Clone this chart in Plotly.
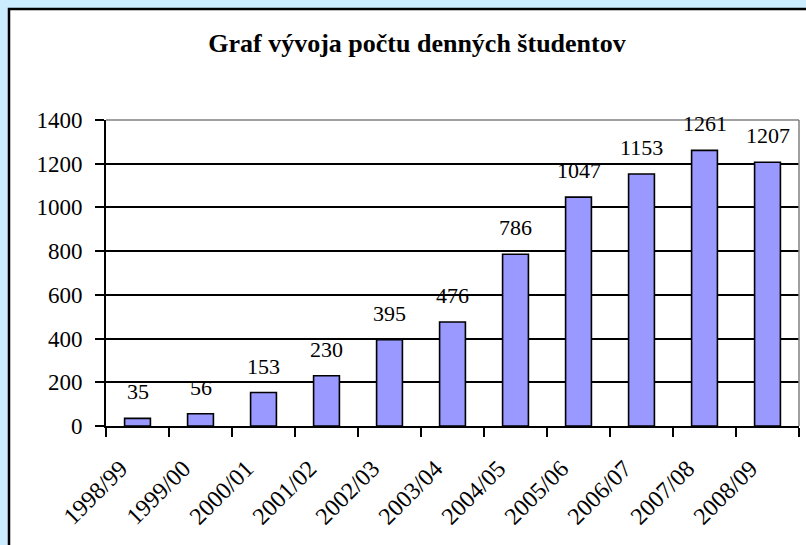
import plotly.graph_objects as go

years = ["1998/99", "1999/00", "2000/01", "2001/02", "2002/03", "2003/04",
         "2004/05", "2005/06", "2006/07", "2007/08", "2008/09"]
students = [35, 56, 153, 230, 395, 476, 786, 1047, 1153, 1261, 1207]
y_ticks = [0, 200, 400, 600, 800, 1000, 1200, 1400]
title_text = "Graf vývoja počtu denných študentov"

FONT = '"Liberation Serif", "Times New Roman", Times, serif'

W, H = 806, 545
L, R, T, B = 106, 7, 120, 119
pw, ph = W - L - R, H - T - B

def px_x(p):
    return (p - L) / pw

def px_y(p):
    return (H - B - p) / ph

fig = go.Figure()
fig.add_trace(go.Bar(
    x=years, y=students,
    marker=dict(color="#9999FF", line=dict(color="black", width=1.6)),
    hoverinfo="x+y",
))

for yr, v in zip(years, students):
    fig.add_annotation(x=yr, y=v, text=str(v), showarrow=False,
                       yanchor="bottom", yshift=12,
                       font=dict(family=FONT, size=22, color="black"))

shapes = [
    # white chart frame
    dict(type="rect", xref="paper", yref="paper",
         x0=px_x(9), x1=px_x(822), y0=px_y(562), y1=px_y(9),
         fillcolor="white", line=dict(color="black", width=2.5), layer="below"),
    # gray top and right plot border
    dict(type="line", xref="paper", yref="paper", x0=0, x1=1, y0=1, y1=1,
         line=dict(color="#808080", width=1.5)),
    dict(type="line", xref="paper", yref="paper", x0=1, x1=1, y0=0, y1=1,
         line=dict(color="#808080", width=1.5)),
]

fig.update_layout(
    width=W, height=H,
    margin=dict(l=L, r=R, t=T, b=B, pad=0, autoexpand=False),
    paper_bgcolor="#CCECFF",
    plot_bgcolor="white",
    bargap=0.59,
    showlegend=False,
    shapes=shapes,
    title=dict(text="<b>" + title_text + "</b>", x=px_x(417), xanchor="center",
               xref="paper", y=1 - 43 / H, yanchor="middle",
               font=dict(family=FONT, size=26, color="black"),
               automargin=False),
    xaxis=dict(type="category", tickson="boundaries", ticks="outside",
               ticklen=9, tickwidth=2, tickcolor="black",
               showline=True, linecolor="black", linewidth=2,
               tickangle=-45, showgrid=False, automargin=False,
               ticklabelstandoff=17, ticklabelshift=-17,
               tickfont=dict(family=FONT, size=24, color="black")),
    yaxis=dict(range=[0, 1400], tickvals=y_ticks, ticks="outside",
               ticklen=9, tickwidth=2, tickcolor="black",
               showline=True, linecolor="black", linewidth=2,
               showgrid=True, gridcolor="black", gridwidth=1.6,
               zeroline=False, ticklabelstandoff=8, automargin=False,
               tickfont=dict(family=FONT, size=23, color="black")),
)

post = ("document.body.style.margin='0';"
        "document.body.style.padding='0';"
        "document.body.style.overflow='hidden';"
        "document.body.style.background='#CCECFF';")

fig.write_html("out.html", post_script=post, config={"displayModeBar": False})
